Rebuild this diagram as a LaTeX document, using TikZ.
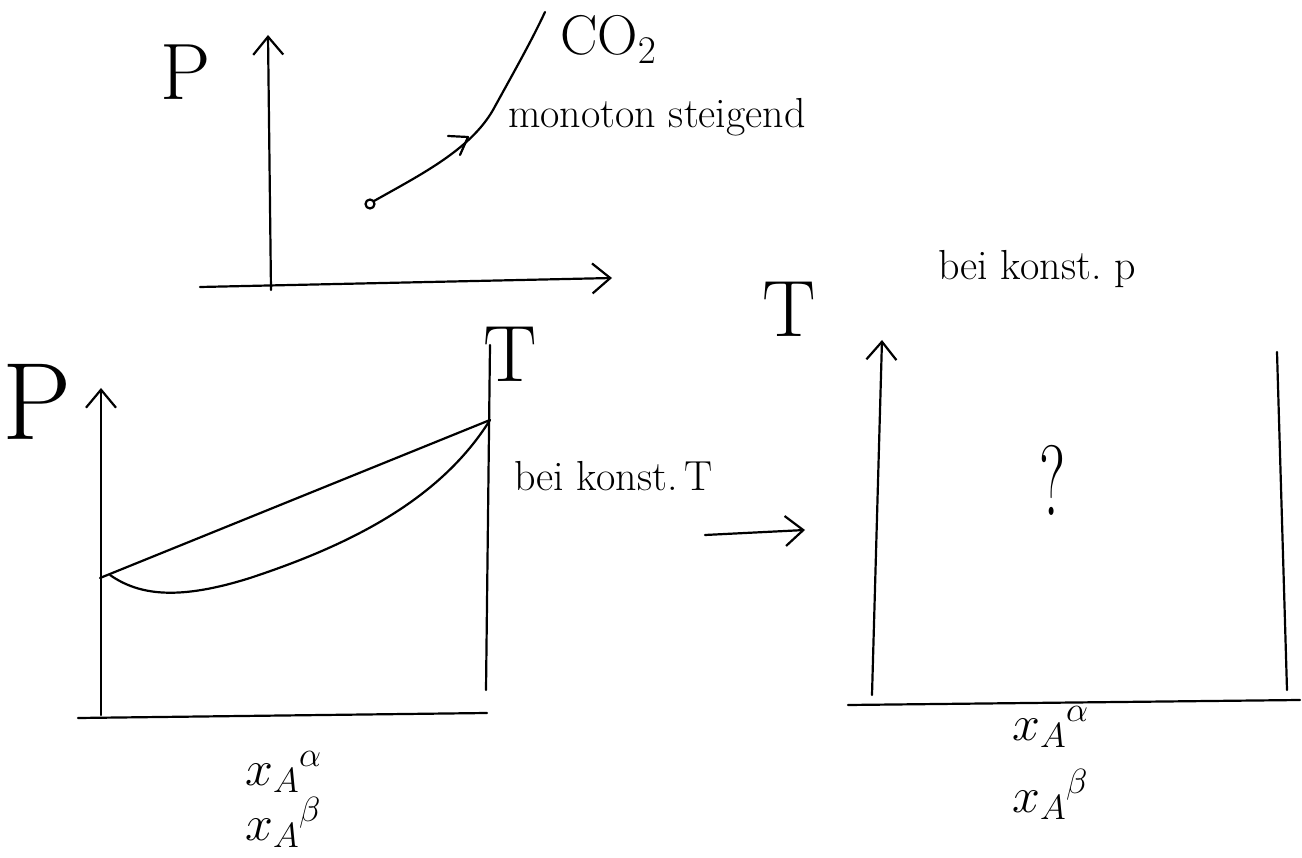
\RequirePackage{fix-cm}
\documentclass[tikz,border=0pt]{standalone}
\usepackage{fontspec}
\usetikzlibrary{arrows.meta}
\begin{document}
\begin{tikzpicture}[x=1pt,y=-1pt,
  ink/.style={line width=2.2pt, line cap=round, line join=round, black},
  axisarrow/.style={ink, -{Straight Barb[length=18pt,width=30pt,line width=2.2pt]}},
  lbl/.style={inner sep=0pt, anchor=base west},
  big/.style={font=\fontsize{80}{90}\selectfont},
  mid/.style={font=\fontsize{42}{48}\selectfont},
  sym/.style={font=\fontsize{50}{56}\selectfont}]
\useasboundingbox (0,0) rectangle (1302,858);

% ---------- top diagram ----------
\draw[axisarrow] (271,290) -- (268,35);
\draw[axisarrow] (200,287) -- (612,278);
\node[lbl,big] (p1) at (160,100) {P};
\draw[ink] (370,204) circle (4.5pt);
\draw[ink] (374,201) .. controls (420,175) and (470,150) .. (493,110)
  .. controls (515,70) and (532,40) .. (545,12);
\draw[ink] (448,136) -- (468,137) -- (460,155);
\node[lbl,font=\fontsize{56}{60}\selectfont] (co2) at (560,55) {CO$_2$};
\node[lbl,mid] (mono) at (508,128) {monoton steigend};

% ---------- bottom left diagram ----------
\node[lbl,font=\fontsize{110}{120}\selectfont] (p2) at (2,440) {P};
\draw[axisarrow] (101,715) -- (101,388);
\draw[ink] (78,718) -- (487,713);
\draw[ink] (490,345) -- (486,690);
\node[lbl,big] (t1) at (483,382) {T};
\draw[ink] (100,578) -- (490,420);
\draw[ink] (110,575) .. controls (140,596) and (180,600) .. (250,578)
  .. controls (350,545) and (440,500) .. (490,420);
\node[lbl,mid] (bkT) at (514,490) {bei konst.\,T};
\draw[axisarrow] (705,535) -- (805,530);
\node[lbl,sym] (xa1) at (245,785) {$x_A{}^{\alpha}$};
\node[lbl,sym] (xb1) at (245,840) {$x_A{}^{\beta}$};

% ---------- bottom right diagram ----------
\node[lbl,big] (t2) at (762,337) {T};
\node[lbl,mid] (bkp) at (938,280) {bei konst.\ p};
\draw[axisarrow] (872,695) -- (882,340);
\draw[ink] (1277,352) -- (1287,690);
\draw[ink] (848,705) -- (1300,700);
\node[inner sep=0pt,font=\fontsize{100}{110}\selectfont,xscale=0.6] (q) at (1052,480) {?};
\node[lbl,sym] (xa2) at (1012,740) {$x_A{}^{\alpha}$};
\node[lbl,sym] (xb2) at (1012,812) {$x_A{}^{\beta}$};
\end{tikzpicture}
\end{document}
